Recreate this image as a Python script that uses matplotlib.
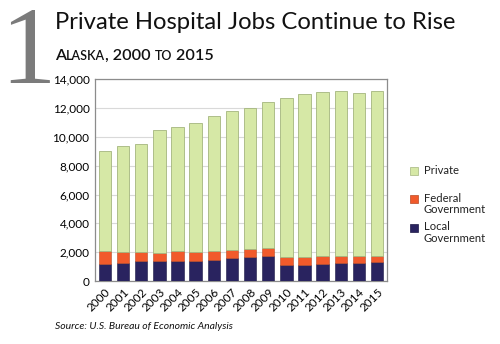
import numpy as np
import matplotlib
matplotlib.use("Agg")
from matplotlib import pyplot as plt

years = [str(y) for y in range(2000, 2016)]
# stacked totals read at the top of each segment
local_gov = [1210, 1280, 1370, 1420, 1420, 1370, 1470, 1600, 1670, 1770,
             1120, 1120, 1190, 1230, 1280, 1300]
federal_top = [2070, 2020, 2000, 1950, 2070, 2000, 2070, 2160, 2210, 2280,
               1650, 1670, 1720, 1740, 1720, 1740]
total = [9050, 9330, 9530, 10490, 10700, 10980, 11440, 11790, 12000, 12420,
         12700, 12980, 13120, 13190, 13070, 13210]

local_gov = np.array(local_gov)
federal_gov = np.array(federal_top) - local_gov
private = np.array(total) - np.array(federal_top)

c_private = "#d6e8a6"
c_federal = "#f15a2b"
c_local = "#29235f"

plt.rcParams['font.family'] = ['Lato', 'DejaVu Sans']

fig = plt.figure(figsize=(5.0, 3.44), dpi=100)
ax = fig.add_axes([0.19, 0.183, 0.584, 0.587])

x = np.arange(len(years))
w = 0.68
ax.bar(x, local_gov, w, color=c_local, edgecolor="#1c1845", linewidth=0.4, zorder=3)
ax.bar(x, federal_gov, w, bottom=local_gov, color=c_federal,
       edgecolor="#b94a25", linewidth=0.4, zorder=3)
ax.bar(x, private, w, bottom=local_gov + federal_gov, color=c_private,
       edgecolor="#a4b57e", linewidth=0.6, zorder=3)

ax.set_xlim(-0.55, 15.55)
ax.set_ylim(0, 14000)
ax.set_yticks(range(0, 14001, 2000))
ax.set_yticklabels([f"{v:,}" for v in range(0, 14001, 2000)], fontsize=8.5)
ax.set_xticks(x)
ax.set_xticklabels(years, rotation=45, ha='right', rotation_mode='anchor', fontsize=8.5)
ax.tick_params(length=0, pad=4)
ax.grid(axis='y', color="#d9d9d9", linewidth=0.8, zorder=0)
for s in ax.spines.values():
    s.set_color("#8c8c8c")
    s.set_linewidth(0.9)

# legend on the right
leg = [(c_private, "#a4b57e", "Private", 170.5),
       (c_federal, "#b94a25", "Federal\nGovernment", 198.5),
       (c_local, "#1c1845", "Local\nGovernment", 227.5)]
for face, edge, lab, ypx in leg:
    yf = 1 - ypx / 344
    fig.patches.append(plt.Rectangle((410 / 500, yf - 4 / 344), 8 / 500, 8 / 344,
                                     transform=fig.transFigure, facecolor=face,
                                     edgecolor=edge, linewidth=0.5))
    fig.text(424 / 500, yf + 6 / 344, lab, fontsize=8.1, va='top', ha='left',
             linespacing=1.0, color="#222222")

# big numeral
fig.text(0.0, 1 - 83 / 344, "1", family="Liberation Serif", fontsize=80,
         color="#7b7b7b", va='baseline', ha='left')

fig.text(55 / 500, 1 - 29 / 344, "Private Hospital Jobs Continue to Rise",
         fontsize=17.2, va='baseline', ha='left', color="#111111")

# small-caps subtitle built piece by piece
pieces = [("A", 11.6), ("LASKA", 9), (", 2000 ", 11.6), ("TO", 9), (" 2015", 11.6)]
fig.canvas.draw()
renderer = fig.canvas.get_renderer()
xpos = 55 / 500
for txt, size in pieces:
    t = fig.text(xpos, 1 - 60 / 344, txt, fontsize=size, fontweight='semibold',
                 va='baseline', ha='left', color="#111111")
    bb = t.get_window_extent(renderer)
    xpos = bb.x1 / fig.bbox.width

fig.text(55 / 500, 1 - 329 / 344, "Source: U.S. Bureau of Economic Analysis",
         fontsize=7.5, style='italic', va='baseline', ha='left', color="#111111")

fig.savefig("out.png", dpi=100)
